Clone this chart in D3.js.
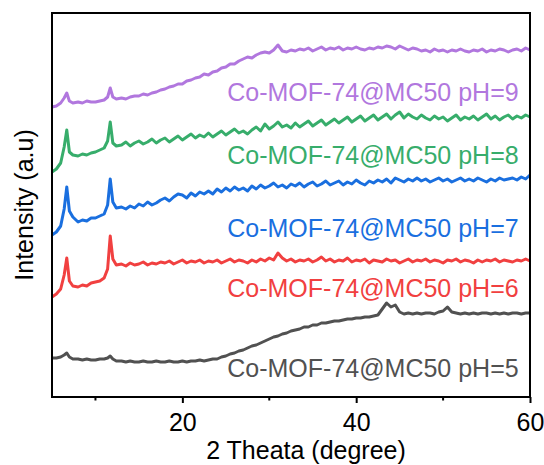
<!DOCTYPE html>
<html>
<head>
<meta charset="utf-8">
<script src="https://cdn.jsdelivr.net/npm/d3@7"></script>
<style>
  body { margin: 0; background: #fff; }
  text { font-family: "Liberation Sans", Arial, sans-serif; }
</style>
</head>
<body>
<div id="chart"></div>
<script>
// 2-theta grid (denser around the two MOF-74 peaks)
const theta = [
  5.0, 5.5, 6.0, 6.4, 6.7, 7.0, 7.4, 8.0, 8.5, 9.0, 9.5, 10.0, 10.5, 11.0, 11.4, 11.7, 12.0, 12.4,
  13, 13.5, 14, 14.5, 15, 15.5, 16, 16.5, 17, 17.5,
  18, 18.5, 19, 19.5, 20, 20.5, 21, 21.5, 22, 22.5,
  23, 23.5, 24, 24.5, 25, 25.5, 26, 26.5, 27, 27.5,
  28, 28.5, 29, 29.5, 30, 30.5, 31, 31.5, 32, 32.5,
  33, 33.5, 34, 34.5, 35, 35.5, 36, 36.5, 37, 37.5,
  38, 38.5, 39, 39.5, 40, 40.5, 41, 41.5, 42, 42.5,
  43, 43.5, 44, 44.5, 45, 45.5, 46, 46.5, 47, 47.5,
  48, 48.5, 49, 49.5, 50, 50.5, 51, 51.5, 52, 52.5,
  53, 53.5, 54, 54.5, 55, 55.5, 56, 56.5, 57, 57.5,
  58, 58.5, 59, 59.5, 60
];

// intensities (a.u., already stacked with offsets)
const pH5 = [
  39, 39, 40, 42, 44, 40, 38, 38, 37, 38, 37, 37, 38, 38, 39, 41, 38, 36,
  36, 35, 36, 35, 35, 36, 35, 35, 36, 35,
  35, 36, 35, 35, 36, 35, 36, 36, 37, 36,
  37, 38, 38, 40, 41, 43, 44, 46, 47, 49,
  51, 52, 54, 56, 58, 60, 61, 63, 64, 66,
  67, 68, 70, 70, 72, 72, 74, 74, 75, 76,
  76, 77, 78, 78, 79, 79, 80, 80, 81, 82,
  88, 94, 90, 92, 85, 83, 84, 83, 84, 83,
  84, 84, 83, 85, 86, 90, 85, 84, 83, 84,
  83, 84, 83, 84, 84, 83, 84, 83, 84, 83,
  84, 84, 83, 84, 84
];
const pH6 = [
  100, 103, 108, 122, 139, 116, 111, 110, 112, 111, 114, 115, 116, 119, 128, 161, 138, 132,
  133, 131, 134, 132, 133, 135, 132, 134, 133, 135,
  134, 136, 133, 135, 137, 134, 136, 135, 137, 134,
  136, 135, 137, 134, 136, 138, 135, 137, 136, 134,
  137, 135, 138, 136, 139, 137, 144, 139, 136, 138,
  135, 137, 136, 138, 135, 137, 140, 136, 138, 135,
  137, 136, 139, 135, 137, 136, 138, 134, 137, 136,
  135, 138, 136, 137, 134, 136, 138, 135, 137, 136,
  138, 135, 137, 136, 134, 137, 136, 138, 135, 137,
  136, 134, 137, 135, 137, 136, 138, 135, 137, 136,
  135, 137, 136, 138, 136
];
const pH7 = [
  162, 165, 171, 188, 210, 186, 180, 175, 177, 176, 179, 179, 181, 183, 192, 218, 195, 189,
  190, 188, 191, 189, 193, 191, 195, 192, 194, 197,
  199, 196, 200, 203, 202, 199, 204, 201, 205, 203,
  206, 203, 208, 205, 209, 206, 210, 207, 209, 206,
  211, 208, 212, 209, 211, 214, 210, 212, 209, 213,
  211, 214, 210, 213, 215, 211, 213, 216, 212, 214,
  216, 212, 215, 213, 217, 214, 212, 216, 214, 217,
  215, 218, 214, 219, 217, 215, 218, 216, 219, 216,
  218, 215, 217, 219, 216, 218, 215, 217, 219, 216,
  218, 216, 219, 217, 215, 218, 216, 219, 217, 218,
  219, 217, 220, 218, 222
];
const pH8 = [
  225, 228, 234, 250, 267, 245, 242, 241, 243, 242, 244, 245, 247, 249, 256, 275, 254, 251,
  252, 255, 251, 254, 256, 253, 255, 258, 254, 257,
  259, 255, 258, 261, 257, 260, 263, 259, 262, 260,
  264, 260, 263, 266, 262, 265, 268, 264, 266, 263,
  267, 270, 266, 273, 268, 271, 275, 270, 272, 269,
  274, 270, 273, 276, 271, 274, 277, 272, 275, 278,
  274, 277, 280, 275, 278, 281, 276, 279, 282, 277,
  280, 283, 278, 282, 285, 279, 283, 280, 278, 282,
  279, 277, 281, 278, 280, 276, 279, 282, 277, 280,
  278, 281, 277, 280, 283, 278, 281, 277, 280, 282,
  278, 281, 279, 282, 280
];
const pH9 = [
  290, 291, 294, 299, 304, 296, 294, 295, 294, 296, 295, 295, 296, 297, 300, 309, 300, 298,
  299, 298, 300, 301, 301, 303, 302, 304, 305, 307,
  308, 310, 311, 313, 313, 316, 317, 319, 320, 323,
  322, 325, 326, 329, 330, 333, 333, 336, 338, 340,
  339, 342, 344, 345, 344, 347, 352, 346, 345, 347,
  346, 348, 347, 349, 346, 348, 350, 347, 349, 348,
  350, 347, 349, 348, 350, 348, 347, 349, 348, 350,
  349, 351, 350, 348, 351, 349, 347, 349, 348, 346,
  347, 345, 348, 346, 347, 345, 347, 346, 348, 346,
  345, 347, 346, 348, 345, 347, 346, 348, 347, 345,
  347, 348, 346, 349, 347
];

const seriesNames = ["Co-MOF-74@MC50 pH=5", "Co-MOF-74@MC50 pH=6", "Co-MOF-74@MC50 pH=7",
                     "Co-MOF-74@MC50 pH=8", "Co-MOF-74@MC50 pH=9"];
const seriesValues = [pH5, pH6, pH7, pH8, pH9];
const seriesColors = ["#515151", "#F14040", "#1A6FDF", "#37AD6B", "#B177DE"];
// label baselines, in intensity units
const labelLevels = [20, 100, 160, 233, 296];

const xTicks = [20, 40, 60];
const xMinorTicks = [10, 30, 50];

const width = 544, height = 465;
const margin = { top: 13, right: 14, bottom: 68, left: 52 };
const fontSize = 25;

const svg = d3.select("#chart")
    .append("svg")
    .attr("width", width)
    .attr("height", height);

const x = d3.scaleLinear()
    .domain([5, 60])
    .range([margin.left, width - margin.right]);

const y = d3.scaleLinear()
    .domain([0, 384])
    .range([height - margin.bottom, margin.top]);

const line = d3.line()
    .x((d, i) => x(theta[i]))
    .y(d => y(d));

// curves
svg.append("g")
    .selectAll("path")
    .data(seriesValues)
    .join("path")
    .attr("fill", "none")
    .attr("stroke", (d, i) => seriesColors[i])
    .attr("stroke-width", 3)
    .attr("stroke-linejoin", "round")
    .attr("d", line);

// labels
svg.append("g")
    .selectAll("text")
    .data(seriesNames)
    .join("text")
    .attr("x", x(58.7))
    .attr("y", (d, i) => y(labelLevels[i]))
    .attr("text-anchor", "end")
    .attr("font-size", fontSize)
    .attr("fill", (d, i) => seriesColors[i])
    .text(d => d);

// bottom axis
const xAxis = svg.append("g")
    .attr("transform", `translate(0,${height - margin.bottom})`)
    .call(d3.axisBottom(x).tickValues(xTicks).tickSize(6).tickPadding(10));
xAxis.select(".domain").remove();
xAxis.selectAll(".tick line").attr("stroke", "#000").attr("stroke-width", 2);
xAxis.selectAll(".tick text")
    .attr("font-size", fontSize)
    .attr("font-family", "Liberation Sans, Arial, sans-serif")
    .attr("fill", "#000");

svg.append("g")
    .selectAll("line")
    .data(xMinorTicks)
    .join("line")
    .attr("x1", d => x(d))
    .attr("x2", d => x(d))
    .attr("y1", height - margin.bottom)
    .attr("y2", height - margin.bottom + 3.5)
    .attr("stroke", "#000")
    .attr("stroke-width", 2);

// frame
svg.append("rect")
    .attr("x", margin.left)
    .attr("y", margin.top)
    .attr("width", width - margin.left - margin.right)
    .attr("height", height - margin.top - margin.bottom)
    .attr("fill", "none")
    .attr("stroke", "#000")
    .attr("stroke-width", 2);

// axis titles
svg.append("text")
    .attr("x", 306)
    .attr("y", 459)
    .attr("text-anchor", "middle")
    .attr("font-size", fontSize)
    .text("2 Theata (degree)");

svg.append("text")
    .attr("transform", `translate(33,205) rotate(-90)`)
    .attr("text-anchor", "middle")
    .attr("font-size", fontSize)
    .text("Intensity (a.u)");
</script>
</body>
</html>
